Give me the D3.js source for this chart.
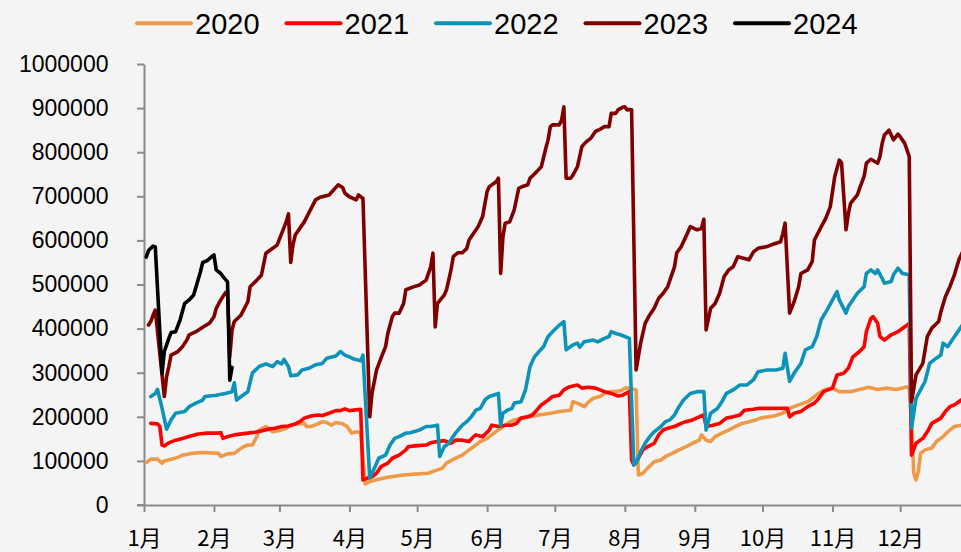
<!DOCTYPE html>
<html><head><meta charset="utf-8">
<script src="https://cdn.jsdelivr.net/npm/d3@7"></script>
<style>
html,body{margin:0;padding:0;background:#f4f4f4;overflow:hidden}
svg{display:block}
</style></head><body>
<svg id="chart" width="961" height="552"></svg>
<script>
// ---- data (day of year offset from Jan 1, value) ----
const years = ["2020","2021","2022","2023","2024"];
const colors = ["#EE9A48","#FF0000","#0E93B8","#800000","#000000"];
const monthLabels = ["1月","2月","3月","4月","5月","6月","7月","8月","9月","10月","11月","12月"];
const yTicks = [0,100000,200000,300000,400000,500000,600000,700000,800000,900000,1000000];

const s2020 = [[1,96000],[3,104000],[6,104000],[8,95000],[9,100000],[12,104000],[15,108000],[17,113000],[21,117000],[26,119000],[33,117000],[34,110000],[37,116000],[40,117000],[42,125000],[44,132000],[46,136000],[48,136000],[50,155000],[51,170000],[54,178000],[55,174000],[57,166000],[60,169000],[63,174000],[65,181000],[68,184000],[71,185000],[72,178000],[74,178000],[77,184000],[79,189000],[81,187000],[83,181000],[85,187000],[88,184000],[90,178000],[92,163000],[94,166000],[96,164000],[98,48000],[100,53000],[103,57000],[108,63000],[115,68000],[120,70000],[126,72000],[129,78000],[132,83000],[134,95000],[138,106000],[141,113000],[144,125000],[146,132000],[149,144000],[152,151000],[155,163000],[158,174000],[161,185000],[164,193000],[167,197000],[171,200000],[175,204000],[180,208000],[184,212000],[189,215000],[190,234000],[192,231000],[195,223000],[197,234000],[199,242000],[202,246000],[204,253000],[206,257000],[209,257000],[212,261000],[213,265000],[215,265000],[218,261000],[219,68000],[221,72000],[223,83000],[226,98000],[229,102000],[231,110000],[234,117000],[237,125000],[240,132000],[243,140000],[246,147000],[247,159000],[249,147000],[251,144000],[253,155000],[256,163000],[259,170000],[262,178000],[265,185000],[268,189000],[271,193000],[273,197000],[279,202000],[283,208000],[286,219000],[290,227000],[294,234000],[297,246000],[300,257000],[302,262000],[305,265000],[308,257000],[313,257000],[317,262000],[321,267000],[325,262000],[329,265000],[333,262000],[336,265000],[338,268000],[339,265000],[340,193000],[341,72000],[342,57000],[343,76000],[344,117000],[346,125000],[349,129000],[351,144000],[354,155000],[356,166000],[359,178000],[362,181000],[364,186000]];

const s2021 = [[3,185000],[6,184000],[7,178000],[8,136000],[9,134000],[11,141000],[14,147000],[17,151000],[21,157000],[24,161000],[28,163000],[32,163000],[34,164000],[35,151000],[37,155000],[40,159000],[46,163000],[49,165000],[52,168000],[55,172000],[58,174000],[61,178000],[64,179000],[67,184000],[69,189000],[71,197000],[74,202000],[77,204000],[79,203000],[82,208000],[85,214000],[87,214000],[89,218000],[91,214000],[96,217000],[97,57000],[99,61000],[101,64000],[103,72000],[105,87000],[108,95000],[110,106000],[113,113000],[116,125000],[117,132000],[120,134000],[125,136000],[127,141000],[130,144000],[133,146000],[136,140000],[138,147000],[141,147000],[144,144000],[146,155000],[147,159000],[150,155000],[153,170000],[154,181000],[157,178000],[160,181000],[163,181000],[165,185000],[167,197000],[170,200000],[172,204000],[174,215000],[176,227000],[178,234000],[181,246000],[184,249000],[186,261000],[188,267000],[190,270000],[192,272000],[194,265000],[197,267000],[200,265000],[202,261000],[204,257000],[207,253000],[210,247000],[212,249000],[215,257000],[216,102000],[217,91000],[219,106000],[221,125000],[223,132000],[226,140000],[228,159000],[230,170000],[232,174000],[235,178000],[238,185000],[240,189000],[243,193000],[246,200000],[248,204000],[249,178000],[252,181000],[255,185000],[258,197000],[261,200000],[264,204000],[266,215000],[270,217000],[272,219000],[276,219000],[285,219000],[286,200000],[288,208000],[291,212000],[294,223000],[297,231000],[299,242000],[301,257000],[305,265000],[307,295000],[310,299000],[312,310000],[314,336000],[317,348000],[319,359000],[320,393000],[322,423000],[323,427000],[325,412000],[326,382000],[328,374000],[331,386000],[334,393000],[337,404000],[339,412000],[340,113000],[342,140000],[345,151000],[347,166000],[349,185000],[353,197000],[355,212000],[357,223000],[359,227000],[362,238000],[364,245000]];

const s2022 = [[3,246000],[5,253000],[6,262000],[8,219000],[10,172000],[12,193000],[14,208000],[18,212000],[20,223000],[23,231000],[26,238000],[27,246000],[32,249000],[36,253000],[39,257000],[40,277000],[41,238000],[43,246000],[46,257000],[48,299000],[51,314000],[54,320000],[57,314000],[59,325000],[61,320000],[62,330000],[64,314000],[65,293000],[68,295000],[70,306000],[73,310000],[76,318000],[79,321000],[81,333000],[85,338000],[87,348000],[89,340000],[91,336000],[93,331000],[96,327000],[97,340000],[100,61000],[102,83000],[104,106000],[107,113000],[109,136000],[111,151000],[113,155000],[116,163000],[118,164000],[122,170000],[125,178000],[127,178000],[130,181000],[131,110000],[133,132000],[135,140000],[138,163000],[141,181000],[143,189000],[145,200000],[147,215000],[149,219000],[151,238000],[153,246000],[157,253000],[158,181000],[159,208000],[161,215000],[163,219000],[164,231000],[167,234000],[169,261000],[171,314000],[173,336000],[175,348000],[177,359000],[179,382000],[181,393000],[184,408000],[186,416000],[187,352000],[190,363000],[192,367000],[193,358000],[195,370000],[199,374000],[201,370000],[204,378000],[206,382000],[207,393000],[209,389000],[211,386000],[213,382000],[215,378000],[217,91000],[218,95000],[220,121000],[222,140000],[224,155000],[226,166000],[229,178000],[231,189000],[233,193000],[235,204000],[237,223000],[239,238000],[242,253000],[245,257000],[248,257000],[249,170000],[251,208000],[254,219000],[256,234000],[258,253000],[261,261000],[264,272000],[267,272000],[270,284000],[272,302000],[276,306000],[280,306000],[283,310000],[284,344000],[286,280000],[288,299000],[291,321000],[293,352000],[296,359000],[298,382000],[300,420000],[303,446000],[305,465000],[307,484000],[308,465000],[311,435000],[312,450000],[314,465000],[316,480000],[319,495000],[320,525000],[322,533000],[324,525000],[325,533000],[327,514000],[328,503000],[331,507000],[332,522000],[334,537000],[336,525000],[339,522000],[340,174000],[342,242000],[344,261000],[346,280000],[348,321000],[351,333000],[353,340000],[354,367000],[356,359000],[358,374000],[360,389000],[362,404000],[364,420000]];

const s2023 = [[2,408000],[3,416000],[4,430000],[5,442000],[9,246000],[10,291000],[11,314000],[12,340000],[15,348000],[17,359000],[19,374000],[20,386000],[23,393000],[26,403000],[29,412000],[31,427000],[32,446000],[34,465000],[36,481000],[37,484000],[38,336000],[39,397000],[40,416000],[43,431000],[46,461000],[47,495000],[50,510000],[52,521000],[54,571000],[57,582000],[59,590000],[61,616000],[63,642000],[64,660000],[65,550000],[66,590000],[67,612000],[71,642000],[76,692000],[78,698000],[82,703000],[86,726000],[87,723000],[88,720000],[89,707000],[91,699000],[94,692000],[95,703000],[96,699000],[97,695000],[100,200000],[101,253000],[103,306000],[105,333000],[107,359000],[108,389000],[110,427000],[111,435000],[113,435000],[115,457000],[116,488000],[119,494000],[122,499000],[125,510000],[127,540000],[128,571000],[129,404000],[130,457000],[133,476000],[134,488000],[136,533000],[137,563000],[139,572000],[141,572000],[143,582000],[144,601000],[146,616000],[148,631000],[150,654000],[152,711000],[153,722000],[156,733000],[157,741000],[158,525000],[159,608000],[160,639000],[162,642000],[164,669000],[166,718000],[168,723000],[170,726000],[171,741000],[174,756000],[176,767000],[178,809000],[179,828000],[180,858000],[181,862000],[184,862000],[185,873000],[186,903000],[187,741000],[189,741000],[190,748000],[192,767000],[193,790000],[194,813000],[196,824000],[198,832000],[200,847000],[202,852000],[204,858000],[206,858000],[207,888000],[209,888000],[210,896000],[212,902000],[213,903000],[214,896000],[215,897000],[216,896000],[218,306000],[220,367000],[222,412000],[224,431000],[226,446000],[228,469000],[230,480000],[232,495000],[235,540000],[236,572000],[238,586000],[240,608000],[242,631000],[245,624000],[247,627000],[248,648000],[249,397000],[251,446000],[253,457000],[255,480000],[257,518000],[259,533000],[261,540000],[263,563000],[266,559000],[268,556000],[270,574000],[272,582000],[276,586000],[279,592000],[282,597000],[283,616000],[284,639000],[286,435000],[288,461000],[290,495000],[291,525000],[294,533000],[296,552000],[297,601000],[300,631000],[302,650000],[304,676000],[306,745000],[308,782000],[309,776000],[311,624000],[312,660000],[313,684000],[316,703000],[317,718000],[319,745000],[320,775000],[322,784000],[325,775000],[326,790000],[327,820000],[328,839000],[330,850000],[332,828000],[334,841000],[335,835000],[337,820000],[339,790000],[340,234000],[342,295000],[345,321000],[347,382000],[349,401000],[352,416000],[353,438000],[355,472000],[357,495000],[359,522000],[361,556000],[362,567000],[364,590000]];

const s2024 = [[1,562000],[2,577000],[4,587000],[5,585000],[8,298000],[9,348000],[11,378000],[12,391000],[14,393000],[16,420000],[18,457000],[20,465000],[22,476000],[25,529000],[26,550000],[28,554000],[30,563000],[31,567000],[32,533000],[34,525000],[35,518000],[37,506000],[38,283000],[39,312000]];

const seriesData = [s2020, s2021, s2022, s2023, s2024];

// ---- chart ----
const svg = d3.select("#chart");
svg.append("rect").attr("width",961).attr("height",552).attr("fill","#f4f4f4");
const base = new Date(2024,0,1);
const x = d3.scaleTime().domain([base, new Date(2025,0,1)]).range([144, 970.2]);
const y = d3.scaleLinear().domain([0,1000000]).range([505,64]);
const axisColor = "#8a8a8a";

// y axis
const gy = svg.append("g").attr("transform","translate(144,0)")
  .call(d3.axisLeft(y).tickValues(yTicks).tickSize(7).tickSizeOuter(0).tickPadding(28.5).tickFormat(d=>String(d)));
gy.select(".domain").attr("stroke",axisColor).attr("stroke-width",2);
gy.selectAll(".tick line").attr("stroke",axisColor).attr("stroke-width",2);
gy.selectAll(".tick text").attr("fill","#000").style("font-family","'Liberation Sans', Arial, sans-serif").style("font-size","23px");

// x axis
const monthTicks = d3.range(12).map(m => new Date(2024, m, 1));
const gx = svg.append("g").attr("transform","translate(0,505)")
  .call(d3.axisBottom(x).tickValues(monthTicks).tickSize(7).tickSizeOuter(0).tickFormat((d,i)=>monthLabels[i]));
gx.select(".domain").attr("stroke",axisColor).attr("stroke-width",2);
gx.selectAll(".tick line").attr("stroke",axisColor).attr("stroke-width",2);
gx.selectAll(".tick text").attr("fill","#000").attr("y",41).attr("dy",null)
  .style("font-family","'Noto Sans CJK SC', sans-serif").style("font-size","22px");
// extend baseline to the left under the 0 tick
svg.append("line").attr("x1",137).attr("x2",144).attr("y1",y(0)).attr("y2",y(0)).attr("stroke",axisColor).attr("stroke-width",2);

// lines
const line = d3.line()
  .x(d => x(d3.timeDay.offset(base, d[0])))
  .y(d => y(d[1]));
seriesData.forEach((s,i) => {
  svg.append("path").datum(s).attr("d",line).attr("fill","none")
    .attr("stroke",colors[i]).attr("stroke-width",3.6)
    .attr("stroke-linejoin","round").attr("stroke-linecap","round");
});

// legend
const legend = svg.append("g");
years.forEach((yr,i) => {
  const g = legend.append("g").attr("transform",`translate(${136 + i*149.5},0)`);
  g.append("line").attr("x1",1).attr("x2",55).attr("y1",23.3).attr("y2",23.3)
    .attr("stroke",colors[i]).attr("stroke-width",4).attr("stroke-linecap","round");
  g.append("text").attr("x",59).attr("y",34.3).text(yr).attr("fill","#000")
    .style("font-family","'Liberation Sans', Arial, sans-serif").style("font-size","29px");
});
</script>
</body></html>
